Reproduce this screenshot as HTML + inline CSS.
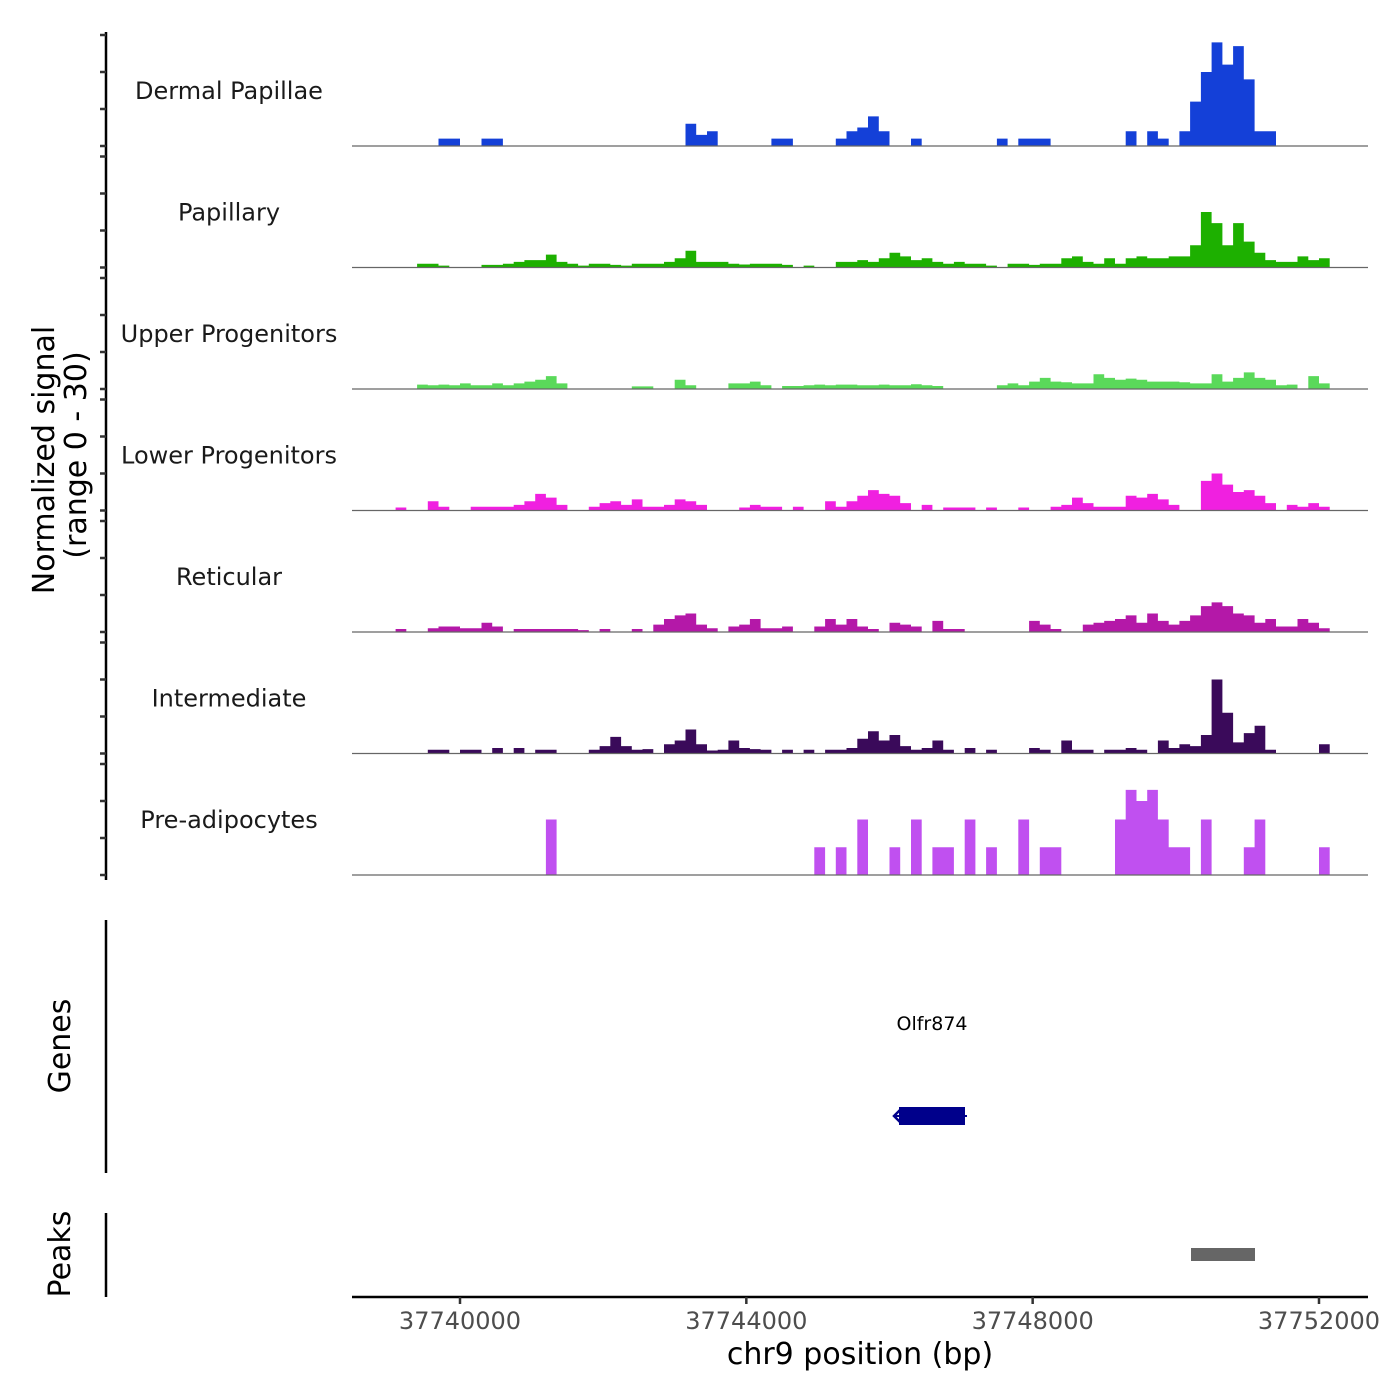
<!DOCTYPE html>
<html><head><meta charset="utf-8">
<style>
html,body{margin:0;padding:0;background:#fff;}
svg{display:block;font-family:"DejaVu Sans","Liberation Sans",sans-serif;}
</style></head>
<body>
<svg id="chart" width="1400" height="1400" viewBox="0 0 1400 1400" xmlns="http://www.w3.org/2000/svg">
  <rect x="0" y="0" width="1400" height="1400" fill="#fff"/>
  <g id="tracks"></g>
  <line x1="106" y1="32" x2="106" y2="880" stroke="#000" stroke-width="2.5"/>
  <g id="yticks"></g>
  <text transform="translate(54,460) rotate(-90)" text-anchor="middle" font-size="30" fill="#000">Normalized signal</text>
  <text transform="translate(86,455) rotate(-90)" text-anchor="middle" font-size="30" fill="#000">(range 0 - 30)</text>

  <line x1="106" y1="920" x2="106" y2="1173" stroke="#000" stroke-width="2.5"/>
  <text transform="translate(70,1046) rotate(-90)" text-anchor="middle" font-size="30" fill="#000">Genes</text>
  <text x="932" y="1030" text-anchor="middle" font-size="19" fill="#000">Olfr874</text>
  <rect x="899" y="1107" width="66" height="18" fill="#00008B"/>
  <line x1="895" y1="1116" x2="967" y2="1116" stroke="#00008B" stroke-width="2"/>
  <polyline points="900,1110 894,1116 900,1122" fill="none" stroke="#00008B" stroke-width="2.5"/>

  <line x1="106" y1="1213" x2="106" y2="1297" stroke="#000" stroke-width="2.5"/>
  <text transform="translate(70,1254) rotate(-90)" text-anchor="middle" font-size="30" fill="#000">Peaks</text>
  <rect x="1191" y="1248" width="64" height="13" fill="#666"/>

  <g id="xaxis"></g>
  <text x="860" y="1364" text-anchor="middle" font-size="30" fill="#000">chr9 position (bp)</text>
</svg>
<script>
const binStart = 37738500;
const binSize = 150;
const trackNames = ["Dermal Papillae","Papillary","Upper Progenitors","Lower Progenitors","Reticular","Intermediate","Pre-adipocytes"];
const trackColors = ["#1440d8","#1db000","#5ad95a","#f020e0","#b418a8","#3a0a5a","#c050f0"];
const xTicks = [37740000,37744000,37748000,37752000];
const yTickVals = [0,10,20,30];
const dermalPapillae = [0,0,0,0,0,0,0,0,2,2,0,0,2,2,0,0,0,0,0,0,0,0,0,0,0,0,0,0,0,0,0,6,3,4,0,0,0,0,0,2,2,0,0,0,0,2,4,5,8,4,0,0,2,0,0,0,0,0,0,0,2,0,2,2,2,0,0,0,0,0,0,0,4,0,4,2,0,4,12,20,28,22,27,18,4,4,0,0,0,0,0,0,0,0,0];
const papillary = [0,0,0,0,0,0,1,1,0.5,0,0,0,0.7,0.7,1,1.5,2,2,3.5,1.5,1,0.5,1,1,0.7,0.5,1,1,1,1.5,2.5,4.5,1.5,1.5,1.5,1,0.8,1,1,1,0.7,0,0.5,0,0,1.5,1.5,2,1.5,2.5,4,3,2,2.5,1.5,1,1.5,1,1,0.5,0,1,1,0.7,1,1,2.5,3,1.5,1,2.5,1,2.5,3,2.5,2.5,3,3,6,15,12,6,12,7,4,2,1.5,1.5,3,2,2.5,0,0,0,0];
const upperProgenitors = [0,0,0,0,0,0,1.2,1,1.2,1,1.5,1,1,1.5,1,1.5,2,2.5,3.5,1.5,0,0,0,0,0,0,0.7,0.7,0,0,2.5,1,0,0,0,1.5,1.5,2,1,0,0.8,0.8,1,1.2,1,1.2,1.2,1,1,1.2,1,1,1.3,1,0.8,0,0,0,0,0,1,1.5,1,2,3,2,1.8,1.5,1.5,4,3,2.5,2.8,2.5,2,2,2,1.8,1.5,1.5,4,2,3,4.5,3,2.5,1,1.2,0,3.5,1.5,0,0,0,0];
const lowerProgenitors = [0,0,0,0,0.8,0,0,2.5,1,0,0,1,1,1,1,1.5,2.5,4.5,3.5,1.5,0,0,1,2,2.5,1.5,3,1,1,1.5,3,2.5,1.5,0,0,0,0.8,1.5,1,1,0,1,0,0,2.5,1,2.5,4,5.5,4.5,4,2,0,1.5,0,0.8,0.8,0.8,0,0.8,0,0,0.8,0,0,1,1.5,3.5,2,1,1,1,4,3.5,4.5,3,1.5,0,0,8,10,7,5,5.5,4,2,0,1.5,1,2,1,0,0,0,0];
const reticular = [0,0,0,0,0.8,0,0,1,1.5,1.5,1,1,2.5,1.5,0,0.8,0.8,0.8,0.8,0.8,0.8,0.5,0,0.8,0,0,0.8,0,2,3.5,4.5,5,2,1,0,1.5,2,3.5,1,1,1.5,0,0,1.5,3.5,2,3.5,1.5,0.8,0,2.5,2,1.5,0,3,0.8,0.8,0,0,0,0,0,0,3,2,0.8,0,0,2,2.5,3,3.5,4.5,2.5,5,3,2,3,4.5,7,8,7,5,4.5,2.5,3.5,1.5,1.5,3.5,2.5,1,0,0,0,0];
const intermediate = [0,0,0,0,0,0,0,1,1,0,1,1,0,1.5,0,1.5,0,1,1,0,0,0,1,2,4.5,2,1,1.2,0,2.5,3.5,6.5,2.5,0.8,1,3.5,1.5,1.2,1,0,1,0,1,0,1,1,1.5,4,6,3.5,5,2,1,1.5,3.5,1,0,1.5,0,1,0,0,0,1.5,1,0,3.5,1,1,0,1,1,1.5,1,0,3.5,1.5,2.5,2,5,20,11,3,5.5,7.5,1,0,0,0,0,2.5,0,0,0,0];
const preAdipocytes = [0,0,0,0,0,0,0,0,0,0,0,0,0,0,0,0,0,0,15,0,0,0,0,0,0,0,0,0,0,0,0,0,0,0,0,0,0,0,0,0,0,0,0,7.5,0,7.5,0,15,0,0,7.5,0,15,0,7.5,7.5,0,15,0,7.5,0,0,15,0,7.5,7.5,0,0,0,0,0,15,23,20,23,15,7.5,7.5,0,15,0,0,0,7.5,15,0,0,0,0,0,7.5,0,0,0,0];
const trackValues = [dermalPapillae,papillary,upperProgenitors,lowerProgenitors,reticular,intermediate,preAdipocytes];

const NS = "http://www.w3.org/2000/svg";
const plotLeft = 352, plotRight = 1368;
const trackTop = 35, trackStep = 121.5, trackRange = 111, yMax = 30;
function xScale(bp){ return 460 + (bp - 37740000) * (286.33 / 4000); }
function baseY(t){ return trackTop + trackRange + t * trackStep; }
function yScale(t, v){ return baseY(t) - v / yMax * trackRange; }
function mk(tag, attrs){ const e = document.createElementNS(NS, tag); for (const k in attrs) e.setAttribute(k, attrs[k]); return e; }

const tg = document.getElementById('tracks');
const yt = document.getElementById('yticks');
for (let t = 0; t < trackValues.length; t++) {
  const vals = trackValues[t];
  let d = "";
  let open = false;
  for (let i = 0; i < vals.length; i++) {
    const x0 = Math.max(plotLeft, xScale(binStart + i * binSize));
    const x1 = Math.min(plotRight, xScale(binStart + (i + 1) * binSize));
    const v = vals[i];
    if (v > 0) {
      const y = yScale(t, v);
      if (!open) { d += "M" + x0.toFixed(1) + "," + baseY(t) + " "; open = true; }
      d += "L" + x0.toFixed(1) + "," + y.toFixed(1) + " L" + x1.toFixed(1) + "," + y.toFixed(1) + " ";
    } else if (open) {
      const xp = xScale(binStart + i * binSize);
      d += "L" + xp.toFixed(1) + "," + baseY(t) + " Z ";
      open = false;
    }
  }
  if (open) { d += "L" + xScale(binStart + vals.length * binSize).toFixed(1) + "," + baseY(t) + " Z"; }
  const area = mk('path', {d: d, fill: trackColors[t]});
  
  
  tg.appendChild(area);
  const base = mk('line', {x1: plotLeft, x2: plotRight, y1: baseY(t), y2: baseY(t), stroke: '#666', 'stroke-width': 1.2});
  
  
  tg.appendChild(base);
  const lab = mk('text', {x: 229, y: baseY(t) - 47, 'text-anchor': 'middle', 'font-size': 24, fill: '#1a1a1a'});
  lab.textContent = trackNames[t];
  
  
  tg.appendChild(lab);
  for (const v of yTickVals) {
    const y = yScale(t, v);
    const tk = mk('line', {x1: 100, x2: 106, y1: y, y2: y, stroke: '#333', 'stroke-width': 2.5});
    
    
    yt.appendChild(tk);
  }
}

const xa = document.getElementById('xaxis');
const axl = mk('line', {x1: plotLeft, x2: plotRight, y1: 1297, y2: 1297, stroke: '#000', 'stroke-width': 2.5});


xa.appendChild(axl);
for (const bp of xTicks) {
  const x = xScale(bp);
  const tk = mk('line', {x1: x, x2: x, y1: 1297, y2: 1304, stroke: '#333', 'stroke-width': 2.5});
  
  
  xa.appendChild(tk);
  const lb = mk('text', {x: x, y: 1329, 'text-anchor': 'middle', 'font-size': 24, fill: '#4d4d4d'});
  lb.textContent = String(bp);
  
  
  xa.appendChild(lb);
}
</script>
</body></html>
